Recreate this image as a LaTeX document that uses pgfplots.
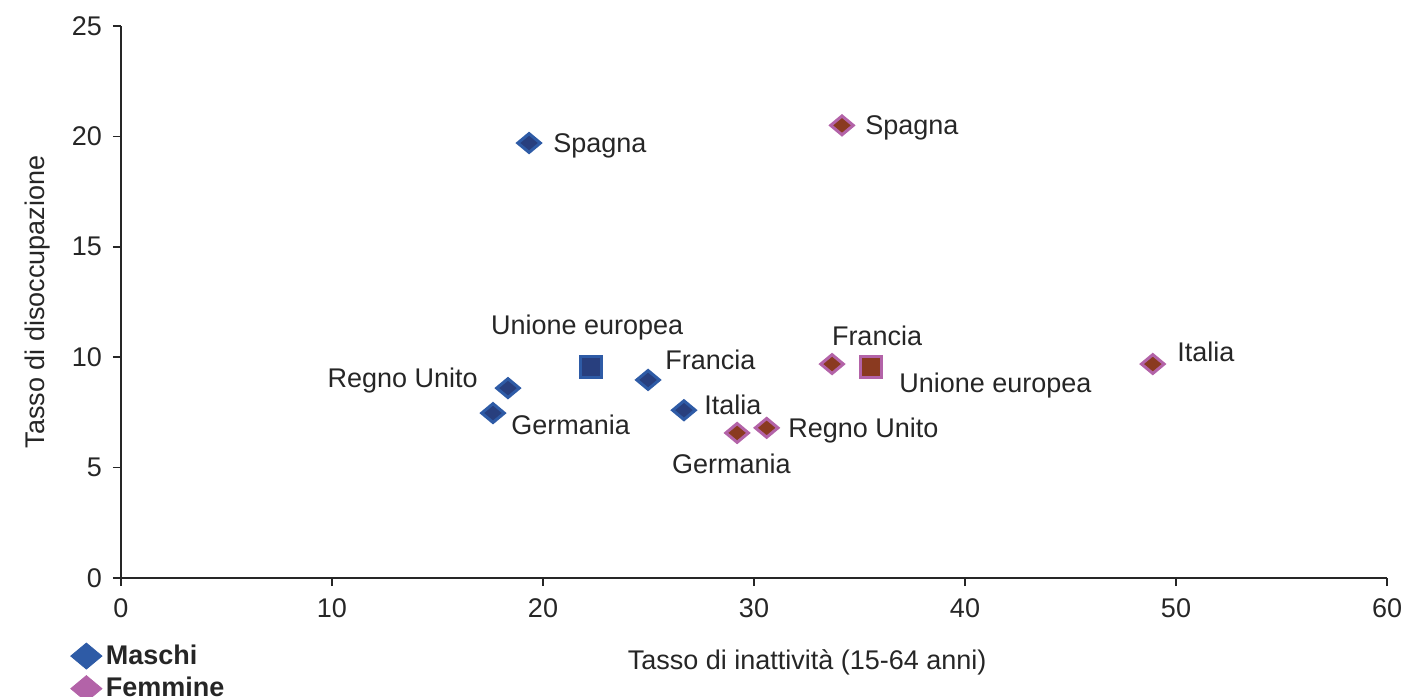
\documentclass[border=0pt]{standalone}
\usepackage{fontspec}
\setmainfont{Liberation Sans}
\usepackage{pgfplots}
\pgfplotsset{compat=1.18}
\usetikzlibrary{calc}
\definecolor{mborder}{HTML}{2E5BA6}
\definecolor{mfill}{HTML}{283F7E}
\definecolor{fborder}{HTML}{B363A8}
\definecolor{ffill}{HTML}{8A3A20}
\definecolor{txt}{HTML}{262626}
% diamond a bit wider than tall, as in the original
\pgfdeclareplotmark{wdiamond}{%
  \pgfpathmoveto{\pgfqpoint{1.2\pgfplotmarksize}{0pt}}%
  \pgfpathlineto{\pgfqpoint{0pt}{\pgfplotmarksize}}%
  \pgfpathlineto{\pgfqpoint{-1.2\pgfplotmarksize}{0pt}}%
  \pgfpathlineto{\pgfqpoint{0pt}{-\pgfplotmarksize}}%
  \pgfpathclose\pgfusepathqfillstroke}
\newcommand{\lbl}{\fontsize{13.5}{16}\selectfont}
\tikzset{lab/.style={font=\lbl, text=txt, inner sep=0pt, text height=9.7pt, text depth=0pt}}
\begin{document}
\begin{tikzpicture}
\begin{axis}[
  name=ax, scale only axis, width=633pt, height=276pt,
  xmin=0, xmax=60, ymin=0, ymax=25,
  xtick={0,10,...,60}, ytick={0,5,...,25},
  axis lines=left, axis line style={-, draw=txt, line width=0.8pt},
  tick align=outside, major tick length=4pt,
  tick style={draw=txt, line width=0.8pt},
  tick label style={font=\lbl, text=txt},
  /pgf/number format/assume math mode=true,
  yticklabel style={xshift=-2pt},
  xticklabel style={yshift=-3pt},
  clip=false,
  xlabel={Tasso di inattività (15-64 anni)},
  ylabel={Tasso di disoccupazione},
  label style={font=\lbl, text=txt},
  xlabel style={at={(axis description cs:0.542,-0.152)}, anchor=center},
  ylabel style={at={(axis description cs:-0.0656,0.5)}, anchor=center},
  legend style={at={(axis description cs:-0.040,-0.113)}, anchor=north west,
    draw=none, fill=none, inner sep=0pt, row sep=1pt,
    font=\lbl\bfseries, text=txt, legend cell align=left},
]
% Maschi
\addplot[only marks, mark=wdiamond, mark size=4.7pt,
  mark options={draw=mborder, fill=mfill, line width=1.5pt}, forget plot]
  coordinates {(19.34,19.70) (24.98,8.97) (18.34,8.60) (17.63,7.47) (26.68,7.60)};
\addplot[only marks, mark=square*, mark size=5.2pt,
  mark options={draw=mborder, fill=mfill, line width=1.5pt}, forget plot]
  coordinates {(22.27,9.56)};
% Femmine
\addplot[only marks, mark=wdiamond, mark size=4.7pt,
  mark options={draw=fborder, fill=ffill, line width=1.5pt}, forget plot]
  coordinates {(34.17,20.50) (33.70,9.69) (48.90,9.69) (30.60,6.80) (29.20,6.57)};
\addplot[only marks, mark=square*, mark size=5.2pt,
  mark options={draw=fborder, fill=ffill, line width=1.5pt}, forget plot]
  coordinates {(35.55,9.56)};
\addlegendimage{only marks, mark=wdiamond, mark size=6.5pt, draw=mborder, fill=mborder}
\addlegendentry{Maschi}
\addlegendimage{only marks, mark=wdiamond, mark size=6.5pt, draw=fborder, fill=fborder}
\addlegendentry{Femmine}
% labels
\node[lab, anchor=west] at (axis cs:20.47,19.70) {Spagna};
\node[lab, anchor=center] at (axis cs:22.09,11.46) {Unione europea};
\node[lab, anchor=west] at (axis cs:25.78,9.87) {Francia};
\node[lab, anchor=east] at (axis cs:16.92,9.06) {Regno Unito};
\node[lab, anchor=west] at (axis cs:18.48,6.93) {Germania};
\node[lab, anchor=west] at (axis cs:27.63,7.84) {Italia};
\node[lab, anchor=west] at (axis cs:35.26,20.52) {Spagna};
\node[lab, anchor=center] at (axis cs:35.83,10.96) {Francia};
\node[lab, anchor=west] at (axis cs:36.87,8.83) {Unione europea};
\node[lab, anchor=west] at (axis cs:50.05,10.24) {Italia};
\node[lab, anchor=west] at (axis cs:31.61,6.79) {Regno Unito};
\node[lab, anchor=center] at (axis cs:28.93,5.16) {Germania};
\end{axis}
\pgfresetboundingbox
\path ($(ax.south west)+(-60.5pt,-59pt)$) rectangle ($(ax.north east)+(9pt,13pt)$);
\end{tikzpicture}
\end{document}
